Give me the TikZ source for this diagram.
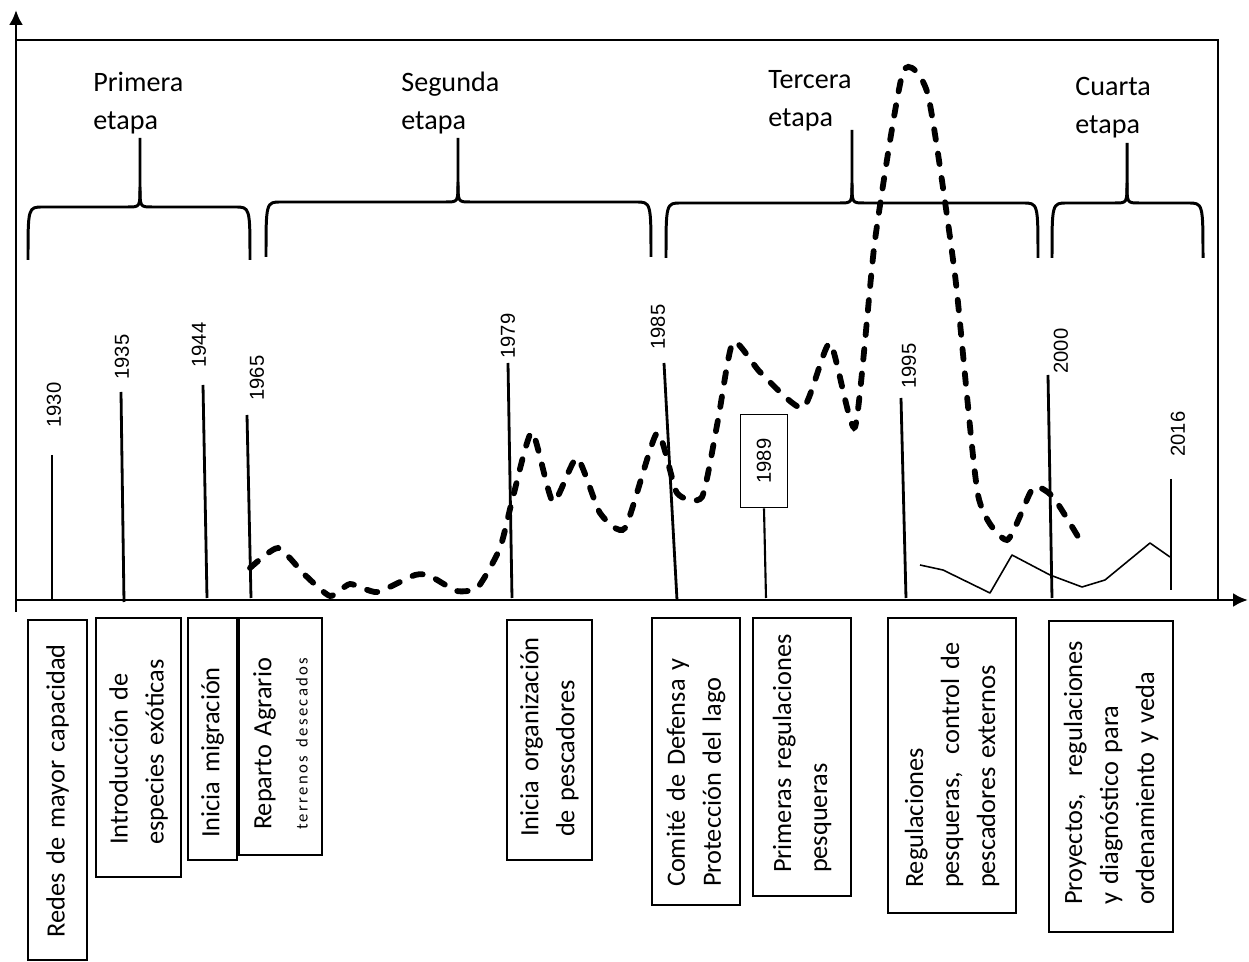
\documentclass[tikz,border=0pt]{standalone}
\usepackage{fontspec}
\setmainfont{Carlito}
\newfontfamily\yearfont{Liberation Sans}
\newfontfamily\spacedfont[LetterSpace=14]{Carlito}
\usetikzlibrary{arrows.meta}
\newcommand\etapabrace[6]{% x0, x1, xt, yh, yb, ytip
  \draw[bracestyle] (#1,#5) .. controls (#1,#4) .. ({#1+15},#4) -- ({#3-12},#4)
     .. controls (#3,#4) .. (#3,{#4-20}) -- (#3,#6);
  \draw[bracestyle] (#3,{#4-20}) .. controls (#3,#4) .. ({#3+12},#4) -- ({#2-15},#4)
     .. controls (#2,#4) .. (#2,#5);
}
\begin{document}
\begin{tikzpicture}[x=0.02cm,y=-0.02cm,
  axis/.style={line width=1.7pt,-{Latex[length=8.5pt,width=8pt]}},
  framestyle/.style={line width=1.1pt},
  bracestyle/.style={line width=1.7pt,line join=round},
  yearline/.style={line width=1.6pt},
  yearlbl/.style={font=\yearfont\fontsize{11.5}{13}\selectfont,rotate=90,inner sep=0pt},
  stage/.style={font=\fontsize{16}{21.6}\selectfont,align=left,anchor=north west,inner sep=0pt},
  evbox/.style={draw,line width=1.1pt,rotate=90,align=left,inner xsep=0pt,inner ysep=0pt,
     font=\fontsize{15}{20.5}\selectfont},
  catchline/.style={line width=3.3pt,dash pattern=on 6pt off 8pt,line cap=round},
  thinline/.style={line width=0.9pt,line join=round}
]
\useasboundingbox (0,0) rectangle (1249,962);

% axes and frame
\coordinate (ybot) at (16,612);
\coordinate (ytop) at (16,10);
\coordinate (xstart) at (16,600);
\coordinate (xend) at (1248,600);
\coordinate (ftl) at (16,40);
\coordinate (ftr) at (1218,40);
\coordinate (fbr) at (1218,600);
\draw[framestyle] (ftl) -- (ftr) -- (fbr);
\draw[axis] (ybot) -- (ytop);
\draw[axis] (xstart) -- (xend);

% stages
\node[stage] (s1) at (93,72) {Primera\\etapa};
\node[stage] (s2) at (401,72) {Segunda\\etapa};
\node[stage] (s3) at (768,70) {Tercera\\etapa};
\node[stage] (s4) at (1075,77) {Cuarta\\etapa};
\etapabrace{28}{250}{140}{207}{260}{138}
\etapabrace{266}{651}{458}{202}{257}{138}
\etapabrace{666}{1038}{852}{203}{258}{130}
\etapabrace{1052}{1203}{1127}{203}{258}{143}

% catch curve (dashed)
\draw[catchline] plot[smooth,tension=0.35] coordinates {
 (250,568) (278,548) (305,575) (330,596) (350,584) (377,592) (415,575) (430,576)
 (457,591) (478,587) (500,548) (513,497) (532,432) (553,502) (577,458) (600,513)
 (625,528) (657,433) (677,493) (702,497) (718,420) (733,342) (760,372) (803,408)
 (830,343) (855,427) (875,240) (903,72) (928,95) (955,275) (978,495) (1007,540)
 (1033,488) (1053,497) (1080,540)};
% thin solid curve
\draw[thinline] (920,565) -- (943,570) -- (990,593) -- (1012,555) -- (1050,575)
  -- (1082,587) -- (1105,580) -- (1150,543) -- (1170,557);

% year lines
\coordinate (t1930) at (52,455);   \coordinate (b1930) at (52,600);
\coordinate (t1935) at (121,392);  \coordinate (b1935) at (124,602);
\coordinate (t1944) at (203,385);  \coordinate (b1944) at (207,598);
\coordinate (t1965) at (247,415);  \coordinate (b1965) at (251,598);
\coordinate (t1979) at (508,363);  \coordinate (b1979) at (512,598);
\coordinate (t1985) at (664,363);  \coordinate (b1985) at (677,600);
\coordinate (t1995) at (901,398);  \coordinate (b1995) at (906,598);
\coordinate (t2000) at (1048,375); \coordinate (b2000) at (1052,598);
\coordinate (t2016) at (1171,479); \coordinate (b2016) at (1171,590);
\coordinate (b1989) at (766,598);
\foreach \y in {1930,1935,1944,1965,1979,1985,1995,2000,2016}
  \draw[yearline] (t\y) -- (b\y);

\node[yearlbl] (l1930) at (54,405) {1930};
\node[yearlbl] (l1935) at (122,357) {1935};
\node[yearlbl] (l1944) at (199,345) {1944};
\node[yearlbl] (l1965) at (257,378) {1965};
\node[yearlbl] (l1979) at (508,336) {1979};
\node[yearlbl] (l1985) at (658,327) {1985};
\node[yearlbl] (l1995) at (909,366) {1995};
\node[yearlbl] (l2000) at (1061,351) {2000};
\node[yearlbl] (l2016) at (1178,434) {2016};
\node[draw,line width=1.1pt,rotate=90,fill=white,minimum width=1.86cm,minimum height=0.94cm,
  inner sep=0pt,font=\yearfont\fontsize{11.5}{13}\selectfont] (y1989) at (764,461) {1989};
\draw[line width=1.2pt] (y1989.west) -- (b1989);

% event boxes
\node[evbox,minimum width=6.8cm,minimum height=1.18cm,text width=5.9cm] (e1) at (57.5,790)
  {\mbox{Redes de mayor capacidad}};
\node[evbox,minimum width=5.18cm,minimum height=1.7cm,text width=3.9cm] (e2) at (138.5,747.5)
  {\mbox{Introducción de}\\\mbox{especies exóticas}};
\node[evbox,minimum width=4.84cm,minimum height=0.98cm,text width=3.96cm] (e3) at (212.5,739)
  {\mbox{Inicia migración}};
\node[evbox,minimum width=4.74cm,minimum height=1.66cm,text width=3.74cm] (e4) at (280.5,736.5)
  {\mbox{Reparto Agrario}\\\mbox{\spacedfont\fontsize{9.5}{20.5}\selectfont terrenos desecados}};
\node[evbox,minimum width=4.8cm,minimum height=1.7cm,text width=3.88cm] (e5) at (549.5,740)
  {\mbox{Inicia organización}\\\mbox{de pescadores}};
\node[evbox,minimum width=5.74cm,minimum height=1.76cm,text width=5.02cm] (e6) at (696,761.5)
  {\mbox{Comité de Defensa y}\\\mbox{Protección del lago}};
\node[evbox,minimum width=5.56cm,minimum height=1.96cm,text width=4.64cm] (e7) at (802,757)
  {\mbox{Primeras regulaciones}\\\mbox{pesqueras}};
\node[evbox,minimum width=5.9cm,minimum height=2.56cm,text width=4.9cm] (e8) at (952,765.5)
  {\mbox{Regulaciones}\\\mbox{pesqueras,\ \ control de}\\\mbox{pescadores externos}};
\node[evbox,minimum width=6.22cm,minimum height=2.48cm,text width=5.14cm] (e9) at (1111,776.5)
  {\mbox{Proyectos,\ \ regulaciones}\\\mbox{y diagnóstico para}\\\mbox{ordenamiento y veda}};
\end{tikzpicture}
\end{document}
